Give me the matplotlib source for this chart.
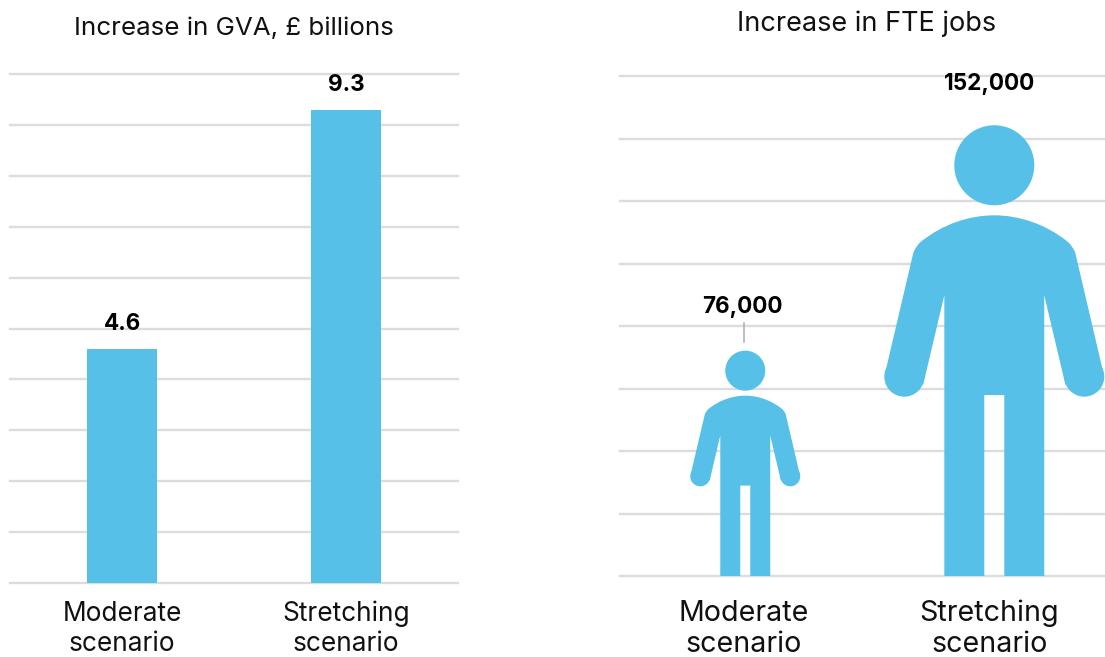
import numpy as np
import matplotlib
matplotlib.use("Agg")
import matplotlib.pyplot as plt
from matplotlib.patches import PathPatch
from matplotlib.path import Path

plt.rcParams['font.family'] = ['Inter', 'DejaVu Sans']

# data
scenarios = ['Moderate\nscenario', 'Stretching\nscenario']
gva_values = [4.6, 9.3]
gva_labels = ['4.6', '9.3']
gva_ticks = list(range(0, 11))
job_values = [76000, 152000]
job_labels = ['76,000', '152,000']
job_ticks = list(range(0, 160001, 20000))

BLUE = '#56c0e9'
GRID = '#dcdcdc'
TEXT = '#111111'
W, H = 1105, 657
PX = 0.72  # points per pixel at dpi 100
FIGURE_SHARE = 0.9474  # the person icon is a bit shorter than its value


def make_axes(fig, left, right, top, bottom):
    ax = fig.add_axes([left / W, (H - bottom) / H, (right - left) / W, (bottom - top) / H])
    for s in ax.spines.values():
        s.set_visible(False)
    ax.tick_params(length=0, labelleft=False, labelbottom=False)
    ax.grid(axis='y', color=GRID, lw=2.4 * PX)
    ax.set_axisbelow(True)
    for line in ax.get_ygridlines():
        line.set_clip_on(False)
    return ax


def draw_person(ax, x, value, x_px, y_px):
    """Person icon whose height follows the value, drawn in data coords"""
    size = value * y_px * FIGURE_SHARE  # height in pixels

    def to_data(points):
        pts = np.asarray(points, dtype=float)
        return np.column_stack([x + pts[:, 0] * size / x_px, pts[:, 1] * size / y_px])

    # right half of the outline as fractions of the height, bottom to shoulder
    right = [(0.0222, 0.0), (0.111, 0.0), (0.111, 0.624), (0.158, 0.425), (0.243, 0.449), (0.180, 0.718)]
    right_codes = [Path.LINETO] * 6
    shoulder = [(0.175, 0.732), (0.164, 0.742), (0.115, 0.782), (0.055, 0.8015), (0.0, 0.8015)]
    shoulder_codes = [Path.CURVE3, Path.CURVE3, Path.CURVE4, Path.CURVE4, Path.CURVE4]
    # mirrored shoulder, walking back from the top centre
    left_shoulder = [(-0.055, 0.8015), (-0.115, 0.782), (-0.164, 0.742), (-0.175, 0.732), (-0.180, 0.718)]
    left_shoulder_codes = [Path.CURVE4, Path.CURVE4, Path.CURVE4, Path.CURVE3, Path.CURVE3]
    left = [(-a, b) for a, b in right[-2::-1]]
    gap = [(-0.0222, 0.402), (0.0222, 0.402), (0.0222, 0.0)]

    verts = right + shoulder + left_shoulder + left + gap
    codes = right_codes + shoulder_codes + left_shoulder_codes + [Path.LINETO] * (len(left) + len(gap))
    codes[0] = Path.MOVETO
    ax.add_patch(PathPatch(Path(to_data(verts), codes), fc=BLUE, ec='none', zorder=3))

    # hands and head
    for cx, cy, r in [(0.2, 0.4429, 0.0444), (-0.2, 0.4429, 0.0444), (0.0, 0.9127, 0.0889)]:
        c = to_data([(cx, cy)])[0]
        path = Path.circle((0, 0), 1)
        circle = np.column_stack([c[0] + path.vertices[:, 0] * r * size / x_px,
                                  c[1] + path.vertices[:, 1] * r * size / y_px])
        ax.add_patch(PathPatch(Path(circle, path.codes), fc=BLUE, ec='none', zorder=3))
    return size / y_px


fig = plt.figure(figsize=(W / 100, H / 100), dpi=100)

# left panel
ax1 = make_axes(fig, 10, 458, 74, 583)
ax1.set_xlim(-0.5, 1.5)
ax1.set_ylim(0, 10)
ax1.set_yticks(gva_ticks)
ax1.bar([0, 1], gva_values, width=0.3125, color=BLUE, zorder=3)
for i, (v, lab) in enumerate(zip(gva_values, gva_labels)):
    ax1.annotate(lab, (i, v), xytext=(0, 25 * PX), textcoords='offset points', ha='center',
                 va='center', fontsize=16.2, fontweight='bold', color='black')
    ax1.annotate(scenarios[i], (i, 0), xytext=(0, -46 * PX), textcoords='offset points', ha='center',
                 va='center', fontsize=18.9, linespacing=1.2, color=TEXT)
ax1.set_title('Increase in GVA, £ billions', fontsize=18.7, color=TEXT, pad=39 * PX)

# right panel
ax2 = make_axes(fig, 620, 1105, 76, 576)
ax2.set_xlim(-0.503, 1.4446)
ax2.set_ylim(0, 160000)
ax2.set_yticks(job_ticks)
x_px = 249.0
y_px = 500 / 160000
label_dx = [-3, -5]
label_up = [44, 42]
tick_dx = [-2, -5]
for i, (v, lab) in enumerate(zip(job_values, job_labels)):
    top = draw_person(ax2, i, v, x_px, y_px)
    ax2.annotate(lab, (i, top), xytext=(label_dx[i] * PX, label_up[i] * PX), textcoords='offset points',
                 ha='center', va='center', fontsize=16.2, fontweight='bold', color='black')
    ax2.annotate(scenarios[i], (i, 0), xytext=(tick_dx[i] * PX, -53 * PX), textcoords='offset points',
                 ha='center', va='center', fontsize=20.6, linespacing=1.2, color=TEXT)
# little leader line above the small figure
small_top = job_values[0] * FIGURE_SHARE
ax2.plot([-0.007, -0.007], [small_top + 9 / y_px, small_top + 28 / y_px], color='#aaaaaa', lw=1.5 * PX, zorder=3)
ax2.set_title('Increase in FTE jobs', fontsize=19.5, color=TEXT, x=0.508, pad=45 * PX)

fig.savefig('out.png', dpi=100)
